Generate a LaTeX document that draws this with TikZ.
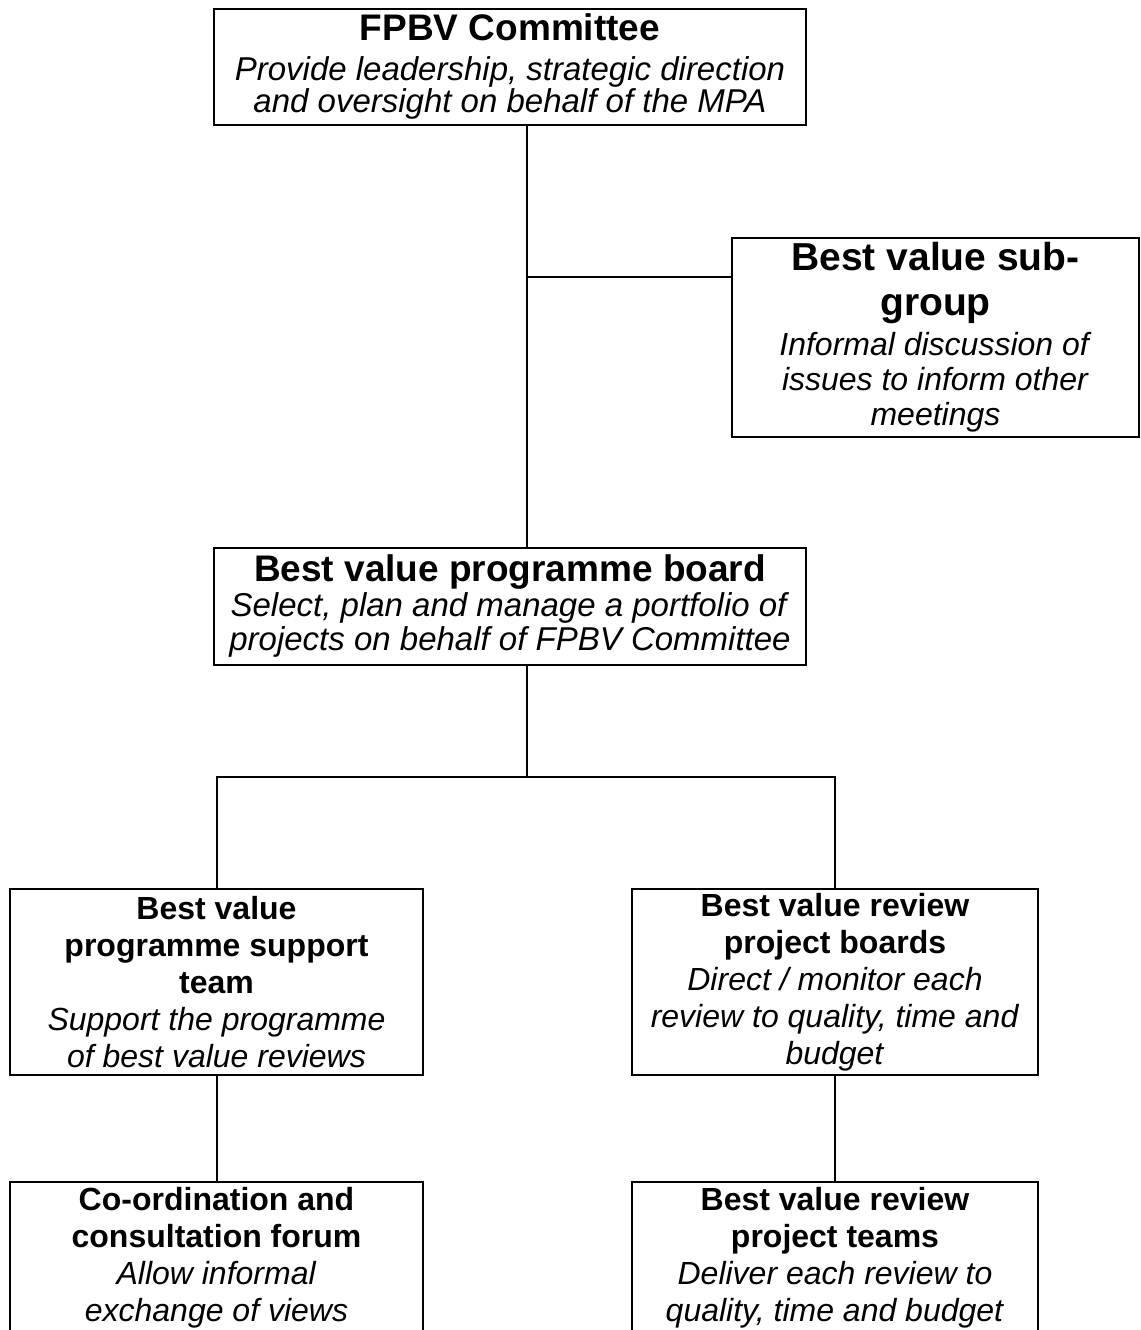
\documentclass[tikz,border=0pt]{standalone}
\usepackage{fontspec}
\setmainfont{Liberation Sans}
\usepackage{tikz}
\usetikzlibrary{positioning, calc}
\tikzset{
	orgbox/.style={draw, line width=1pt, align=center, inner sep=0pt, fill=white}
}
\tikzset{
	orglink/.style={line width=1pt}
}
\newcommand{\btitle}[1]{\textbf{#1}}

\begin{document}
\begin{tikzpicture}[x=0.5pt, y=-0.5pt]
      \useasboundingbox (0,0) rectangle (1141,1330);
      \clip (0,0) rectangle (1141,1330);
      \node[orgbox, minimum width=296pt, minimum height=58pt, font=\fontsize{16.5}{16}\selectfont] (fpbv) at (510,67)
        {{\fontsize{18.5}{20}\selectfont\btitle{FPBV Committee}}\\[4pt]
         \textit{Provide leadership, strategic direction}\\
         \textit{and oversight on behalf of the MPA}};
      \node[orgbox, minimum width=203.5pt, minimum height=99.5pt, font=\fontsize{16}{17.5}\selectfont] (subgrp) at (935.5,337.5)
        {{\fontsize{19.5}{20}\selectfont\btitle{Best value sub-}}\\[5pt]
         {\fontsize{19.5}{20}\selectfont\btitle{group}}\\[2.5pt]
         \textit{Informal discussion of}\\
         \textit{issues to inform other}\\
         \textit{meetings}};
      \node[orgbox, minimum width=296pt, minimum height=58.5pt, font=\fontsize{16.5}{17}\selectfont] (board) at (510,606.5)
        {{\fontsize{18.5}{20}\selectfont\btitle{Best value programme board}}\\[0.5pt]
         \textit{Select, plan and manage a portfolio of}\\
         \textit{projects on behalf of FPBV Committee}};
      \node[orgbox, minimum width=206.5pt, minimum height=93pt, font=\fontsize{16}{18.5}\selectfont] (support) at (216.5,982)
        {\btitle{Best value}\\ \btitle{programme support}\\ \btitle{team}\\
         \textit{Support the programme}\\ \textit{of best value reviews}};
      \node[orgbox, minimum width=203pt, minimum height=93pt, font=\fontsize{16}{18.5}\selectfont] (boards) at (835,982)
        {\btitle{Best value review}\\ \btitle{project boards}\\
         \textit{Direct / monitor each}\\ \textit{review to quality, time and}\\ \textit{budget}};
      \node[orgbox, minimum width=206.5pt, minimum height=76pt, font=\fontsize{16}{18.5}\selectfont] (forum) at (216.5,1258)
        {\btitle{Co-ordination and}\\ \btitle{consultation forum}\\
         \textit{Allow informal}\\ \textit{exchange of views}};
      \node[orgbox, minimum width=203pt, minimum height=76pt, font=\fontsize{16}{18.5}\selectfont] (teams) at (835,1258)
        {\btitle{Best value review}\\ \btitle{project teams}\\
         \textit{Deliver each review to}\\ \textit{quality, time and budget}};
      % connectors
      \coordinate (spine) at (527,277);
      \coordinate (split) at (527,777);
      \draw[orglink] (fpbv.south -| spine) -- (board.north -| spine);
      \draw[orglink] (spine) -- (subgrp.west |- spine);
      \draw[orglink] (board.south -| split) -- (split);
      \draw[orglink] (support.north) |- (split) -| (boards.north);
      \draw[orglink] (support.south) -- (forum.north);
      \draw[orglink] (boards.south) -- (teams.north);
    \end{tikzpicture}
\end{document}
